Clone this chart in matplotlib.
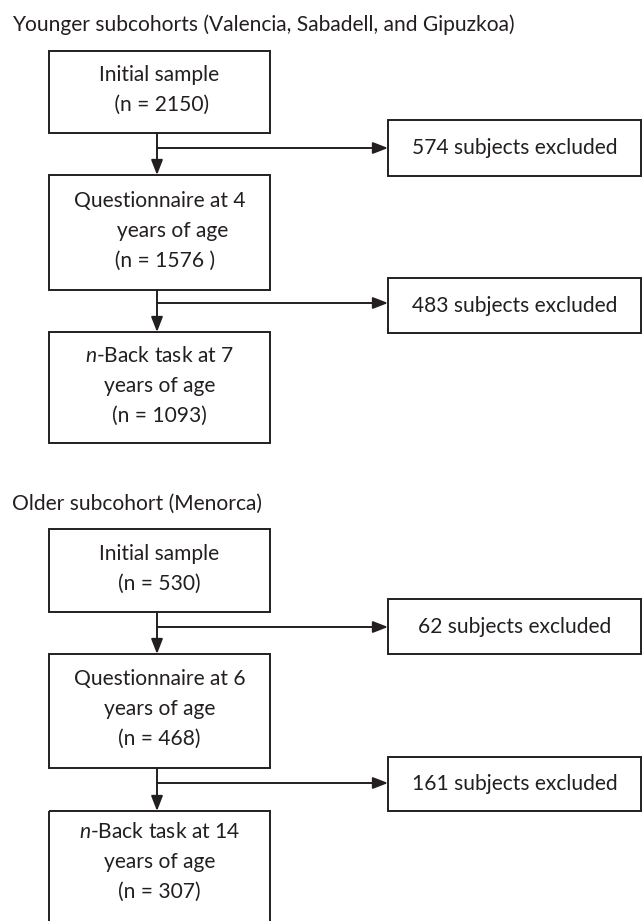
import matplotlib.pyplot as plt
from matplotlib.patches import Rectangle

plt.rcParams["font.family"] = ["Lato", "DejaVu Sans"]
plt.rcParams["mathtext.fontset"] = "custom"
plt.rcParams["mathtext.rm"] = "Lato"
plt.rcParams["mathtext.it"] = "Lato:italic"

# Flowchart content
group_titles = ["Younger subcohorts (Valencia, Sabadell, and Gipuzkoa)",
                "Older subcohort (Menorca)"]
main_labels = [
    [["Initial sample", " (n = 2150)"],
     ["Questionnaire at 4", "     years of age", "  (n = 1576 )"],
     ["$n$-Back task at 7", "years of age", "(n = 1093)"]],
    [["Initial sample", "(n = 530)"],
     ["Questionnaire at 6", "years of age", "(n = 468)"],
     ["$n$-Back task at 14", "years of age", "(n = 307)"]],
]
excluded = [[574, 483], [62, 161]]

# Layout (pixels, origin top-left)
title_y = [25, 504]
box_top = [[51, 175, 332], [529, 654, 811]]
box_bot = [[133, 290, 443], [612, 768, 923]]
branch_y = [[148, 303], [627, 783]]
excl_top = [[120, 278], [599, 757]]
excl_bot = [[176, 333], [654, 811]]
main_x0, main_x1 = 49, 270
excl_x0, excl_x1 = 388, 641
stem_x = 157
ink = "#231f20"
fs = 15.1
line_gap = 30

fig = plt.figure(figsize=(6.43, 9.21), dpi=100)
ax = fig.add_axes([0, 0, 1, 1])
ax.set_xlim(0, 643)
ax.set_ylim(921, 0)
ax.axis("off")

arrow = dict(arrowstyle="-|>,head_length=0.9,head_width=0.35", color=ink, lw=1.4,
             shrinkA=0, shrinkB=0)

for g in range(2):
    ax.text(12, title_y[g], group_titles[g], fontsize=fs, color=ink, va="center", ha="left")
    for i, lines in enumerate(main_labels[g]):
        t, b = box_top[g][i], box_bot[g][i]
        ax.add_patch(Rectangle((main_x0, t), main_x1 - main_x0, b - t, fill=False,
                               ec=ink, lw=1.4))
        cy = (t + min(b, 916)) / 2 - 2
        n = len(lines)
        for k, s in enumerate(lines):
            y = cy + (k - (n - 1) / 2) * line_gap
            ax.text((main_x0 + main_x1) / 2, y, s, fontsize=fs, color=ink,
                    ha="center", va="center")
    for j in range(2):
        ax.annotate("", xy=(stem_x, box_top[g][j + 1]), xytext=(stem_x, box_bot[g][j]),
                    arrowprops=arrow)
        ax.annotate("", xy=(excl_x0, branch_y[g][j]), xytext=(stem_x, branch_y[g][j]),
                    arrowprops=arrow)
        t, b = excl_top[g][j], excl_bot[g][j]
        ax.add_patch(Rectangle((excl_x0, t), excl_x1 - excl_x0, b - t, fill=False,
                               ec=ink, lw=1.4))
        ax.text((excl_x0 + excl_x1) / 2, (t + b) / 2, f"{excluded[g][j]} subjects excluded",
                fontsize=fs, color=ink, ha="center", va="center")

fig.savefig("out.png", dpi=100)
